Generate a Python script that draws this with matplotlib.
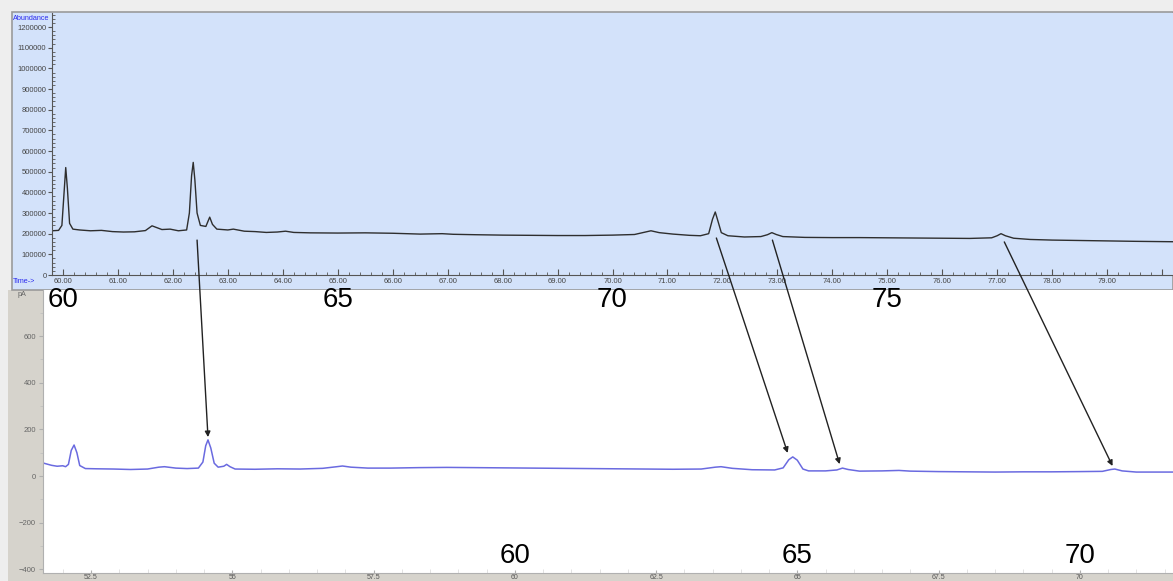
import matplotlib
matplotlib.use("Agg")
import matplotlib.pyplot as plt
from matplotlib.patches import Rectangle, ConnectionPatch
from matplotlib.transforms import blended_transform_factory
from matplotlib.ticker import MultipleLocator, FormatStrFormatter, FuncFormatter

# --- data ---
# upper chromatogram (MS, abundance vs time, min)
ms_time = [59.80, 59.92, 59.98, 60.02, 60.05, 60.08, 60.12, 60.18, 60.30, 60.50,
           60.70, 60.90, 61.10, 61.30, 61.50, 61.62, 61.68, 61.80, 61.95, 62.10,
           62.25, 62.30, 62.34, 62.37, 62.40, 62.44, 62.50, 62.60, 62.67, 62.72,
           62.80, 63.00, 63.10, 63.30, 63.50, 63.70, 63.90, 64.05, 64.20, 64.50,
           65.00, 65.50, 66.00, 66.50, 66.90, 67.10, 67.50, 68.00, 68.50, 69.00,
           69.50, 70.00, 70.40, 70.60, 70.70, 70.85, 71.10, 71.40, 71.60, 71.75,
           71.82, 71.87, 71.92, 71.98, 72.10, 72.40, 72.70, 72.82, 72.90, 72.98,
           73.10, 73.50, 74.00, 74.50, 75.00, 75.50, 76.00, 76.50, 76.90, 77.00,
           77.07, 77.15, 77.30, 77.60, 78.00, 78.50, 79.00, 79.50, 80.20]
ms_abund = [214000, 216000, 240000, 400000, 520000, 420000, 250000, 222000, 218000, 214000,
            216000, 210000, 208000, 209000, 215000, 238000, 232000, 220000, 222000, 214000,
            218000, 300000, 480000, 545000, 460000, 300000, 240000, 235000, 280000, 245000,
            222000, 218000, 222000, 212000, 210000, 206000, 208000, 212000, 206000, 204000,
            203000, 204000, 202000, 198000, 200000, 197000, 195000, 193000, 192000, 191000,
            191000, 193000, 196000, 208000, 214000, 205000, 198000, 192000, 190000, 200000,
            270000, 305000, 260000, 205000, 190000, 184000, 186000, 195000, 205000, 196000,
            186000, 182000, 181000, 181000, 180000, 179000, 178000, 177000, 180000, 190000,
            200000, 190000, 178000, 172000, 169000, 167000, 165000, 163000, 161000]

# lower chromatogram (FID, pA vs time, min)
fid_time = [51.65, 51.80, 51.90, 52.00, 52.05, 52.10, 52.15, 52.20, 52.25, 52.30,
            52.40, 52.60, 52.90, 53.20, 53.50, 53.70, 53.80, 54.00, 54.20, 54.40,
            54.48, 54.53, 54.57, 54.62, 54.68, 54.75, 54.85, 54.90, 54.96, 55.05,
            55.40, 55.80, 56.20, 56.60, 56.85, 56.95, 57.10, 57.40, 57.80, 58.30,
            58.80, 59.30, 59.80, 60.30, 60.80, 61.30, 61.80, 62.30, 62.80, 63.30,
            63.55, 63.65, 63.85, 64.20, 64.60, 64.75, 64.85, 64.92, 65.00, 65.10,
            65.20, 65.50, 65.70, 65.80, 65.90, 66.10, 66.50, 66.80, 67.00, 67.50,
            68.00, 68.50, 69.00, 69.50, 70.00, 70.40, 70.55, 70.62, 70.75, 71.00,
            71.65]
fid_pa = [56, 46, 42, 44, 40, 50, 110, 133, 100, 45,
          32, 31, 30, 28, 30, 38, 40, 34, 32, 34,
          60, 130, 155, 120, 55, 38, 42, 50, 40, 30,
          29, 31, 30, 33, 40, 43, 38, 34, 34, 36,
          37, 36, 35, 34, 33, 32, 31, 30, 29, 30,
          38, 40, 33, 27, 26, 35, 70, 82, 68, 30,
          22, 22, 26, 34, 28, 21, 22, 24, 21, 19,
          18, 17, 18, 18, 19, 20, 28, 30, 22, 17,
          17]

# arrows: peak in upper trace -> matching peak in lower trace
arrow_top_time = [62.44, 71.89, 72.91, 77.13]
arrow_top_abund = [169000, 179000, 169000, 160000]
arrow_bot_time = [54.57, 64.83, 65.75, 70.58]
arrow_bot_pa = [167, 99, 51, 43]

# hand-written big time labels
top_marks = [60, 65, 70, 75]
bot_marks = [60, 65, 70]

# --- layout (pixels of the 1173x581 picture) ---
W, H = 1173, 581
BLUE = "#d3e2fa"
GRAY = "#d6d3cc"


def fx(px):
    return px / W


def fy(py):
    return 1 - py / H


plt.rcParams['font.family'] = ['Liberation Sans', 'DejaVu Sans']

fig = plt.figure(figsize=(W / 100, H / 100), dpi=100, facecolor="#eeeeee")

# panel backgrounds
fig.add_artist(Rectangle((fx(8), 0), 1 - fx(8), fy(290), transform=fig.transFigure,
                         facecolor=GRAY, edgecolor="none", zorder=-2))
fig.add_artist(Rectangle((fx(12), fy(290)), 1 - fx(12), fy(12) - fy(290),
                         transform=fig.transFigure, facecolor=BLUE,
                         edgecolor="#9a9a9a", lw=1.2, zorder=-1))

# --- upper panel ---
ax_top = fig.add_axes([fx(52), fy(275), 1 - fx(52), (275 - 13) / H])
ax_top.set_facecolor(BLUE)
ax_top.plot(ms_time, ms_abund, color="#2e2e2e", lw=1.0)
ax_top.set_xlim(59.8, 80.2)
ax_top.set_ylim(0, 1268000)
for s in ["top", "right"]:
    ax_top.spines[s].set_visible(False)
ax_top.spines["left"].set_color("#555555")
ax_top.spines["bottom"].set_color("#555555")
ax_top.xaxis.set_major_locator(MultipleLocator(1))
ax_top.xaxis.set_minor_locator(MultipleLocator(0.2))
ax_top.xaxis.set_major_formatter(FuncFormatter(lambda v, p: "%.2f" % v if v < 79.5 else ""))
ax_top.yaxis.set_major_locator(MultipleLocator(100000))
ax_top.yaxis.set_minor_locator(MultipleLocator(20000))
ax_top.yaxis.set_major_formatter(FormatStrFormatter("%d"))
ax_top.tick_params(axis="x", which="major", direction="in", length=4, pad=2,
                   labelsize=5.5, labelcolor="#444444", color="#555555")
ax_top.tick_params(axis="x", which="minor", direction="in", length=2, color="#555555")
ax_top.tick_params(axis="y", which="major", direction="out", length=3, pad=1,
                   labelsize=5.5, labelcolor="#444444", color="#555555")
ax_top.tick_params(axis="y", which="minor", direction="in", length=2, color="#555555")

fig.text(fx(13), fy(18), "Abundance", color="#2a2aee", fontsize=5.2, va="center")
fig.text(fx(13), fy(282), "Time->", color="#2a2aee", fontsize=5.2, va="center")

# --- lower panel ---
ax_bot = fig.add_axes([fx(43), fy(573), 1 - fx(43), (573 - 290) / H])
ax_bot.set_facecolor("white")
ax_bot.plot(fid_time, fid_pa, color="#6a6ae0", lw=1.1)
ax_bot.set_xlim(51.65, 71.65)
ax_bot.set_ylim(-416, 798)
for s in ["top", "right"]:
    ax_bot.spines[s].set_visible(False)
ax_bot.spines["left"].set_color("#b0b0b0")
ax_bot.spines["bottom"].set_color("#b0b0b0")
ax_bot.xaxis.set_major_locator(MultipleLocator(2.5))
ax_bot.xaxis.set_minor_locator(MultipleLocator(0.5))
ax_bot.xaxis.set_major_formatter(FuncFormatter(lambda v, p: "%g" % v))
ax_bot.yaxis.set_major_locator(MultipleLocator(200))
ax_bot.yaxis.set_minor_locator(MultipleLocator(100))
ax_bot.tick_params(axis="x", which="major", direction="in", length=2, pad=0.5,
                   labelsize=5, labelcolor="#555555", color="#b0b0b0")
ax_bot.tick_params(axis="x", which="minor", direction="in", length=3, color="#dddddd")
ax_bot.tick_params(axis="y", which="major", direction="out", length=3, pad=2,
                   labelsize=5.5, labelcolor="#666666", color="#b0b0b0")
ax_bot.tick_params(axis="y", which="minor", direction="out", length=2, color="#c0c0c0")

fig.text(fx(18), fy(294), "pA", color="#666666", fontsize=5.2, va="center")

# --- big time labels ---
tr_top = blended_transform_factory(ax_top.transData, fig.transFigure)
for m in top_marks:
    fig.text(m, fy(300), str(m), transform=tr_top, fontsize=20,
             ha="center", va="center", color="black")
tr_bot = blended_transform_factory(ax_bot.transData, fig.transFigure)
for m in bot_marks:
    fig.text(m, fy(556), str(m), transform=tr_bot, fontsize=20,
             ha="center", va="center", color="black")

# --- arrows linking peaks ---
for t0, a0, t1, v1 in zip(arrow_top_time, arrow_top_abund, arrow_bot_time, arrow_bot_pa):
    con = ConnectionPatch(xyA=(t0, a0), coordsA=ax_top.transData,
                          xyB=(t1, v1), coordsB=ax_bot.transData,
                          arrowstyle="-|>", mutation_scale=8, lw=1.0,
                          color="#222222", zorder=5)
    fig.add_artist(con)

fig.savefig("out.png", dpi=100, facecolor=fig.get_facecolor())
